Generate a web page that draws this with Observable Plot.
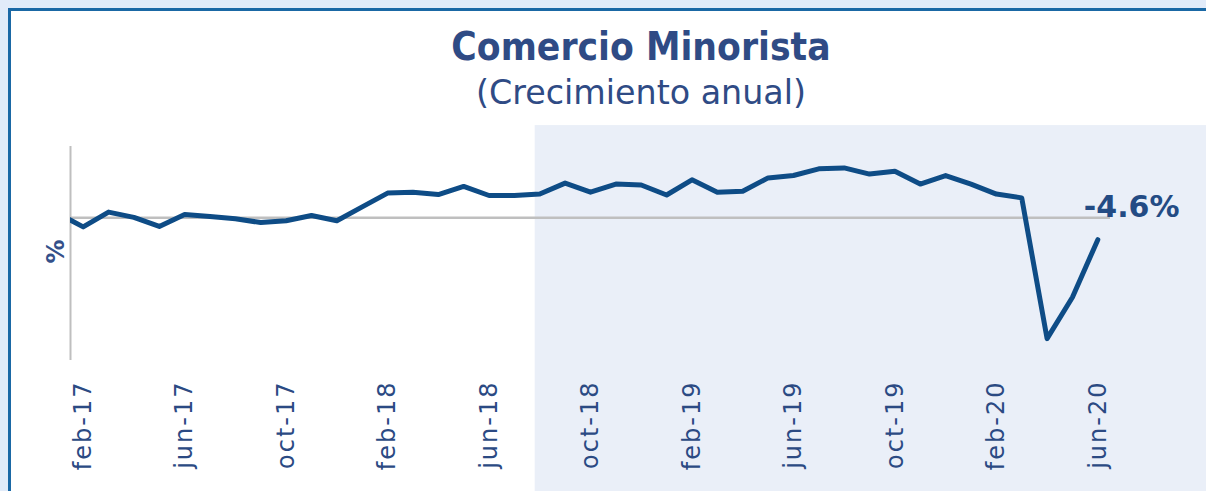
<!DOCTYPE html>
<html>
<head>
<meta charset="utf-8">
<script src="https://cdn.jsdelivr.net/npm/d3@7"></script>
<script src="https://cdn.jsdelivr.net/npm/@observablehq/plot@0.6"></script>
<style>
  html, body { margin: 0; padding: 0; }
  body { width: 1206px; height: 491px; background: #e1ebf9; position: relative; overflow: hidden; font-family: "DejaVu Sans", sans-serif; }
  #frame { position: absolute; left: 8px; top: 8px; right: -10px; bottom: -10px; background: #fff;
           border-top: 3px solid #1a68a5; border-left: 3px solid #1a68a5; }
  #title { position: absolute; left: 341px; width: 600px; top: 27px; text-align: center; font-size: 39px; line-height: 39px;
           font-weight: bold; color: #2f4b85; transform: scaleX(0.89); white-space: nowrap; }
  #subtitle { position: absolute; left: 341px; width: 600px; top: 75px; text-align: center; font-size: 34px; line-height: 34px;
           color: #2f4b85; white-space: nowrap; transform: scaleX(0.98); }
  #chart { position: absolute; left: 0; top: 120px; width: 1206px; height: 371px; overflow: hidden; }
</style>
</head>
<body>
<div id="frame"></div>
<div id="title">Comercio Minorista</div>
<div id="subtitle">(Crecimiento anual)</div>
<div id="chart"></div>
<script>
const months = ["ene-17","feb-17","mar-17","abr-17","may-17","jun-17","jul-17","ago-17","sep-17","oct-17","nov-17","dic-17",
  "ene-18","feb-18","mar-18","abr-18","may-18","jun-18","jul-18","ago-18","sep-18","oct-18","nov-18","dic-18",
  "ene-19","feb-19","mar-19","abr-19","may-19","jun-19","jul-19","ago-19","sep-19","oct-19","nov-19","dic-19",
  "ene-20","feb-20","mar-20","abr-20","may-20","jun-20"];
const growth = [0.9, -1.9, 1.2, 0.1, -1.8, 0.7, 0.3, -0.2, -1.0, -0.6, 0.5, -0.6,
  2.3, 5.2, 5.4, 4.9, 6.6, 4.7, 4.7, 5.0, 7.3, 5.4, 7.1, 6.9,
  4.8, 8.0, 5.4, 5.6, 8.4, 8.9, 10.3, 10.5, 9.2, 9.8, 7.1, 8.9,
  7.1, 5.0, 4.2, -25.4, -16.7, -4.6];
const tickLabels = ["feb-17","jun-17","oct-17","feb-18","jun-18","oct-18","feb-19","jun-19","oct-19","feb-20","jun-20"];
const shadeFrom = "ago-18";

const data = months.map((m, i) => ({i, month: m, value: growth[i]}));
const last = data[data.length - 1];
const xDomain = [months.indexOf("feb-17") - 0.5, months.length - 0.5];
const yDomain = [-30, 15];
const ink = "#2b4a83";
const font = "DejaVu Sans, sans-serif";

const chart = Plot.plot({
  width: 1206,
  height: 371,
  marginLeft: 70,
  marginRight: 96,
  marginTop: 26,
  marginBottom: 131,
  style: {background: "transparent", overflow: "hidden"},
  x: {type: "linear", domain: xDomain},
  y: {domain: yDomain},
  marks: [
    Plot.rect([0], {x1: months.indexOf(shadeFrom) - 0.18, x2: 80, y1: 19.4, y2: -90, fill: "#eaeff8"}),
    Plot.ruleY([0], {stroke: "#bfbfbf", strokeWidth: 2.5}),
    Plot.ruleX([xDomain[0]], {y1: yDomain[0], y2: yDomain[1], stroke: "#bfbfbf", strokeWidth: 2}),
    Plot.line(data, {x: "i", y: "value", stroke: "#0e4c86", strokeWidth: 5, clip: true}),
    Plot.text([last], {x: "i", y: "value", text: d => d.value.toFixed(1) + "%", textAnchor: "start", dx: -14, dy: -32,
      fontSize: 30, fontWeight: "bold", fill: "#234b84", fontFamily: font}),
    Plot.text(["%"], {frameAnchor: "left", dx: -14, dy: 10, rotate: -90, fontSize: 24, fontWeight: 600, fill: "#34508a", fontFamily: font}),
    Plot.axisX({ticks: tickLabels.map(t => months.indexOf(t)), tickFormat: i => months[i], tickRotate: -90,
      tickSize: 0, tickPadding: 20, fontSize: 24, fill: ink, fontFamily: font, label: null}),
    Plot.axisY({ticks: [], label: null, tickSize: 0})
  ]
});
document.getElementById("chart").appendChild(chart);
d3.select(chart).selectAll("g[aria-label='x-axis tick label'] text").style("letter-spacing", "2px");
</script>
</body>
</html>
